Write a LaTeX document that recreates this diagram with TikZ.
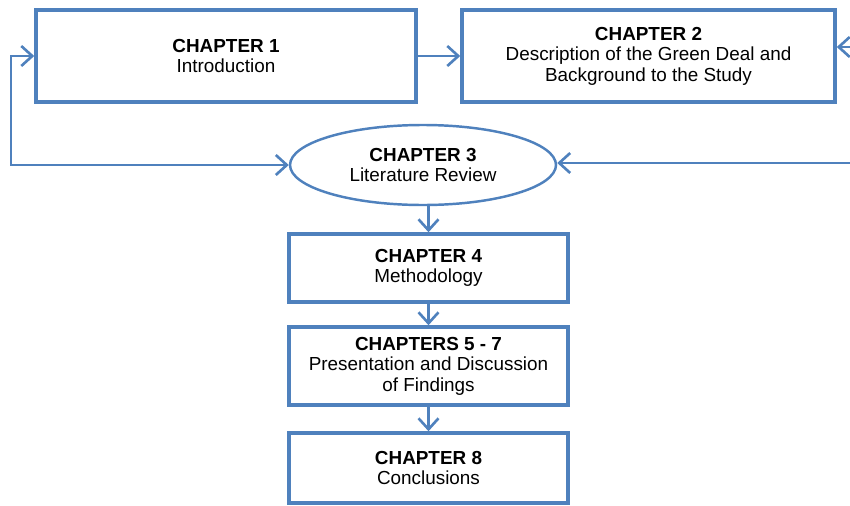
\documentclass[tikz,border=0pt]{standalone}
\usepackage{fontspec}
\setmainfont{Liberation Sans}
\usetikzlibrary{shapes,arrows.meta,positioning,calc}
\definecolor{chapblue}{RGB}{79,129,189}
\tikzset{
  %Define standard arrow tip
  >={Straight Barb[length=2.2mm,width=4mm]},
  %Define style for boxes
  chap/.style={
    rectangle,
    draw=chapblue, line width=2pt,
    minimum width=5.58cm,
    inner sep=0pt,
    align=center},
  % Define style for the ellipse
  review/.style={
    ellipse,
    draw=chapblue, line width=1.4pt,
    minimum width=5.32cm,
    minimum height=1.6cm,
    inner sep=0pt,
    align=center},
  % Define arrow style
  pil/.style={
    ->,
    draw=chapblue,
    line width=1.5pt}
}

\begin{document}
\begin{tikzpicture}[font=\fontsize{10.75}{11.7}\selectfont]
    \useasboundingbox (0,0) rectangle (17,-10.1);
    \node[chap,minimum width=7.6cm,minimum height=1.84cm] (ch1) at (4.52,-1.12) {\textbf{CHAPTER 1}\\Introduction};
    \node[chap,minimum width=7.46cm,minimum height=1.84cm] (ch2) at (12.97,-1.12) {\textbf{CHAPTER 2}\\Description of the Green Deal and\\Background to the Study};
    \node[review] (ch3) at (8.46,-3.3) {\textbf{CHAPTER 3}\\Literature Review};
    \node[chap,minimum height=1.36cm] (ch4) at (8.57,-5.36) {\textbf{CHAPTER 4}\\Methodology};
    \node[chap,minimum height=1.56cm] (ch57) at (8.57,-7.32) {\textbf{CHAPTERS 5 - 7}\\Presentation and Discussion\\of Findings};
    \node[chap,minimum height=1.4cm] (ch8) at (8.57,-9.36) {\textbf{CHAPTER 8}\\Conclusions};
    % loose ends of the loops
    \coordinate (lc) at (0.22,-3.3);
    \coordinate (r1) at (17,-0.94);
    \coordinate (r2) at (17,-3.26);
    \draw[pil] (ch1) -- (ch2);
    \draw[pil,<->] (ch1.west) -| (lc) -- (ch3.west);
    \draw[pil] (r1) -- (ch2.east |- r1);
    \draw[pil] (r2) -- (ch3.east |- r2);
    \draw[pil] (ch4.north |- ch3.south) -- (ch4);
    \draw[pil] (ch4) -- (ch57);
    \draw[pil] (ch57) -- (ch8);
\end{tikzpicture}
\end{document}
